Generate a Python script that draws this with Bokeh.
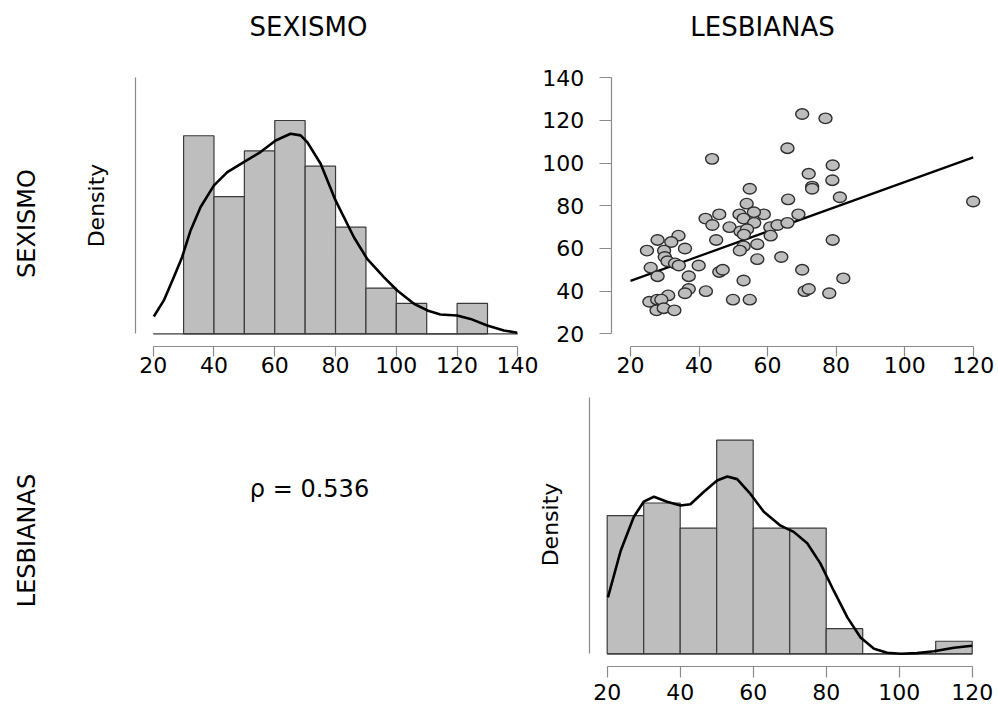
import numpy as np
from bokeh.plotting import figure
from bokeh.layouts import row, column
from bokeh.models import Label, FixedTicker
from bokeh.embed import file_html
from bokeh.resources import INLINE

FONT = "DejaVu Sans"
AXIS_GRAY = "#8a8a8a"
BAR_FILL = "#bebebe"
EDGE = "#3a3a3a"

# ------------------------------------------------------------------ data
var_names = ["SEXISMO", "LESBIANAS"]
rho_label = "ρ = 0.536"
density_label = "Density"

sex_bin_left = [30, 40, 50, 60, 70, 80, 90, 100, 110, 120]
sex_bin_right = [40, 50, 60, 70, 80, 90, 100, 110, 120, 130]
sex_counts = [13, 9, 12, 14, 11, 7, 3, 2, 0, 2]

les_bin_left = [20, 30, 40, 50, 60, 70, 80, 90, 100, 110]
les_bin_right = [30, 40, 50, 60, 70, 80, 90, 100, 110, 120]
les_counts = [11, 12, 10, 17, 10, 10, 2, 0, 0, 1]

sex_kde_x = [20.2, 23.5, 26.8, 29.5, 32.3, 35.6, 40.0, 44.4, 49.8, 55.3, 60.3, 65.2,
             68.5, 70.7, 75.1, 80.0, 86.0, 90.4, 95.9, 100.3, 105.8, 110.2, 114.5,
             120.0, 124.4, 129.9, 135.4, 139.8]
sex_kde_y = [0.00156, 0.00300, 0.00510, 0.00689, 0.00929, 0.01140, 0.01334, 0.01453,
             0.01544, 0.01634, 0.01738, 0.01799, 0.01784, 0.01723, 0.01529, 0.01199,
             0.00870, 0.00674, 0.00510, 0.00389, 0.00270, 0.00210, 0.00174, 0.00164,
             0.00134, 0.00075, 0.00030, 0.00010]

les_kde_x = [20.2, 23.7, 27.3, 30.0, 32.8, 36.4, 40.1, 42.8, 46.5, 50.1, 52.9, 55.6,
             59.3, 62.9, 67.5, 71.1, 74.8, 78.4, 82.1, 85.8, 89.4, 93.1, 96.7, 100.4,
             104.9, 109.5, 115.0, 120.0]
les_kde_y = [0.00616, 0.01123, 0.01493, 0.01658, 0.01712, 0.01658, 0.01616, 0.01630,
             0.01767, 0.01890, 0.01932, 0.01904, 0.01740, 0.01548, 0.01397, 0.01329,
             0.01205, 0.00986, 0.00685, 0.00397, 0.00178, 0.00055, 0.00011, 0.00000,
             0.00007, 0.00027, 0.00066, 0.00088]

# scatter: x = LESBIANAS, y = SEXISMO
les_scores = [70.1, 76.9, 43.8, 65.8, 79.0, 72.0, 78.9, 73.0, 73.0, 54.8, 81.1, 66.0,
              120.0, 53.9, 45.9, 51.8, 58.9, 69.0, 56.0, 41.9, 53.0, 43.9, 56.1, 48.9,
              60.8, 62.9, 65.8, 52.1, 54.0, 53.1, 60.9, 45.0, 79.0, 27.9, 34.0, 31.9,
              53.0, 57.0, 24.8, 29.8, 35.9, 51.9, 30.0, 30.8, 64.0, 57.0, 33.0, 34.1,
              39.9, 25.9, 45.9, 46.9, 70.1, 27.9, 37.0, 53.0, 82.1, 37.0, 35.9, 42.0,
              31.0, 70.8, 72.0, 78.0, 25.5, 27.8, 29.0, 49.9, 54.8, 27.6, 29.7, 32.8]
sex_scores = [123, 121, 102, 107, 99, 95, 92, 89, 88, 88, 84, 83,
              82, 81, 76, 76, 76, 76, 77, 74, 74, 71, 72, 70,
              70, 71, 72, 68, 69, 66.5, 66, 64, 64, 64, 66, 63,
              61, 62, 59, 59, 60, 59, 56, 54, 56, 55, 53, 52,
              52, 51, 49, 50, 50, 47, 47, 45, 46, 41, 39, 40,
              38, 40, 41, 39, 35, 36, 36, 36, 36, 31, 32, 31]

fit_x = [20, 120]
fit_y = [44.8, 102.7]

sex_ticks = [20, 40, 60, 80, 100, 120, 140]
les_ticks = [20, 40, 60, 80, 100, 120]
scatter_y_ticks = [20, 40, 60, 80, 100, 120, 140]

n_sex = sum(sex_counts)
n_les = sum(les_counts)
sex_dens = [c / (n_sex * 10.0) for c in sex_counts]
les_dens = [c / (n_les * 10.0) for c in les_counts]


# ------------------------------------------------------------------ helpers
class Frame:
    """Maps page pixels (from the page's top-left) to a panel's data space."""
    def __init__(self, left, bottom, x0, y0, sx, sy):
        self.left, self.bottom, self.x0, self.y0, self.sx, self.sy = left, bottom, x0, y0, sx, sy

    def pos(self, ix, iy):
        return self.x0 + (ix - self.left) / self.sx, self.y0 + (self.bottom - iy) / self.sy


def panel(width, height, left, top, xcal, ycal, axes=True):
    """xcal/ycal = (data value, page pixel, pixels per data unit)."""
    bottom = top + height
    x0 = xcal[0] - (xcal[1] - left) / xcal[2]
    y0 = ycal[0] - (bottom - ycal[1]) / ycal[2]
    fr = Frame(left, bottom, x0, y0, xcal[2], ycal[2])
    kw = {} if axes else dict(x_axis_type=None, y_axis_type=None)
    p = figure(width=width, height=height,
               x_range=(x0, x0 + width / xcal[2]), y_range=(y0, y0 + height / ycal[2]),
               output_backend="svg", toolbar_location=None,
               min_border_left=0, min_border_right=0, min_border_top=0, min_border_bottom=0,
               **kw)
    p.grid.visible = False
    p.outline_line_color = None
    p.background_fill_color = "white"
    p.border_fill_color = "white"
    return p, fr


def style_axis(ax, ticks, bounds, tick_out=10, standoff=1):
    ax.ticker = FixedTicker(ticks=ticks, minor_ticks=[])
    ax.bounds = bounds
    ax.axis_line_color = AXIS_GRAY
    ax.axis_line_width = 1.2
    ax.major_tick_line_color = AXIS_GRAY
    ax.major_tick_line_width = 1.2
    ax.major_tick_in = 0
    ax.major_tick_out = tick_out
    ax.minor_tick_line_color = None
    ax.major_label_standoff = standoff
    ax.major_label_text_font = FONT
    ax.major_label_text_font_size = "22px"
    ax.major_label_text_color = "black"


def add_text(p, fr, ix, iy, text, size, angle=0.0):
    x, y = fr.pos(ix, iy)
    p.add_layout(Label(x=x, y=y, text=text, text_font=FONT, text_font_size=size,
                       text_align="center", text_baseline="middle", angle=angle,
                       text_color="black"))


W_LEFT, W_RIGHT = 538, 458
H_TOP, H_BOT = 390, 315

# ------------------------------------------------------------------ A: SEXISMO histogram
pA, A = panel(W_LEFT, H_TOP, 0, 0, (20, 152.7, 3.039), (0.0, 333.3, 11122.0))
pA.quad(left=sex_bin_left, right=sex_bin_right, bottom=0, top=sex_dens,
        fill_color=BAR_FILL, line_color=EDGE, line_width=1.2)
pA.line([sex_ticks[0], sex_ticks[-1]], [0, 0], line_color=EDGE, line_width=1.2)
pA.line(sex_kde_x, sex_kde_y, line_color="black", line_width=2.6)
style_axis(pA.xaxis[0], sex_ticks, (sex_ticks[0], sex_ticks[-1]), tick_out=10, standoff=0)
pA.xaxis[0].fixed_location = A.pos(0, 346)[1]
style_axis(pA.yaxis[0], [], (0, A.pos(0, 77)[1]))
pA.yaxis[0].major_tick_line_color = None
pA.yaxis[0].fixed_location = A.pos(135, 0)[0]
add_text(pA, A, 308, 26, var_names[0], "26px")
add_text(pA, A, 26, 223, var_names[0], "24px", angle=np.pi / 2)
add_text(pA, A, 96, 205, density_label, "22px", angle=np.pi / 2)

# ------------------------------------------------------------------ B: scatter
pB, B = panel(W_RIGHT, H_TOP, W_LEFT, 0, (20, 630.0, 3.427), (20, 333.3, 2.1333))
pB.line(fit_x, fit_y, line_color="black", line_width=2.2)
pB.ellipse(x=les_scores, y=sex_scores, width=13, height=10.5,
           width_units="screen", height_units="screen",
           fill_color="#bdbdbd", line_color="#2e2e2e", line_width=1.4)
style_axis(pB.xaxis[0], les_ticks, (les_ticks[0], les_ticks[-1]), tick_out=10, standoff=0)
pB.xaxis[0].fixed_location = B.pos(0, 346)[1]
style_axis(pB.yaxis[0], scatter_y_ticks, (scatter_y_ticks[0], scatter_y_ticks[-1]),
           tick_out=12, standoff=15)
pB.yaxis[0].fixed_location = B.pos(610.7, 0)[0]
add_text(pB, B, 762, 26, var_names[1], "26px")

# ------------------------------------------------------------------ C: correlation text
pC, C = panel(W_LEFT, H_BOT, 0, H_TOP, (0, 0, 1.0), (0, H_TOP + H_BOT, 1.0), axes=False)
add_text(pC, C, 26, 540, var_names[1], "24px", angle=np.pi / 2)
add_text(pC, C, 309, 488, rho_label, "24px")

# ------------------------------------------------------------------ D: LESBIANAS histogram
pD, D = panel(W_RIGHT, H_BOT, W_LEFT, H_TOP, (20, 606.7, 3.65), (0.0, 653.3, 9174.0))
pD.quad(left=les_bin_left, right=les_bin_right, bottom=0, top=les_dens,
        fill_color=BAR_FILL, line_color=EDGE, line_width=1.2)
pD.line([les_ticks[0], les_ticks[-1]], [0, 0], line_color=EDGE, line_width=1.2)
pD.line(les_kde_x, les_kde_y, line_color="black", line_width=2.6)
style_axis(pD.xaxis[0], les_ticks, (les_ticks[0], les_ticks[-1]), tick_out=11, standoff=6)
pD.xaxis[0].fixed_location = D.pos(0, 666)[1]
style_axis(pD.yaxis[0], [], (0, D.pos(0, 397.3)[1]))
pD.yaxis[0].major_tick_line_color = None
pD.yaxis[0].fixed_location = D.pos(589, 0)[0]
add_text(pD, D, 550, 524, density_label, "22px", angle=np.pi / 2)

layout = column(row(pA, pB), row(pC, pD))
open("out.html", "w").write(file_html(layout, INLINE, title="SEXISMO / LESBIANAS"))
